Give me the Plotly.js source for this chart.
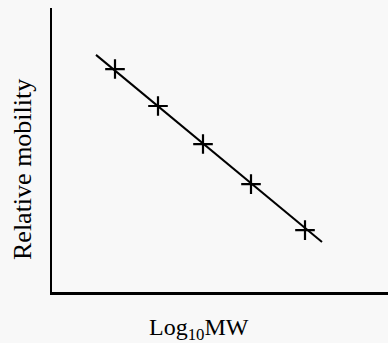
<!DOCTYPE html>
<html>
<head>
<meta charset="utf-8">
<script src="https://cdn.plot.ly/plotly-3.0.1.min.js"></script>
<style>html,body{margin:0;padding:0;background:#f8f8f8;}#chart{width:388px;height:343px;}</style>
</head>
<body>
<div id="chart"></div>
<script>
// Standards: log10 of molecular weight vs relative mobility
const logMW = [3.915, 4.13, 4.355, 4.595, 4.865];
const relMobility = [0.785, 0.655, 0.521, 0.380, 0.218];
// Fitted calibration line endpoints
const fitX = [3.82, 4.95];
const fitY = [0.835, 0.176];
const xTitle = "Log<sub>10</sub>MW";
const yTitle = "Relative mobility";

const traces = [
  {x: fitX, y: fitY, mode: 'lines', type: 'scatter',
   line: {color: '#000', width: 2}, hoverinfo: 'skip', showlegend: false},
  {x: logMW, y: relMobility, mode: 'markers', type: 'scatter',
   marker: {symbol: 'cross-thin-open', size: 14, color: '#000', line: {color: '#000', width: 2.2}},
   showlegend: false}
];

const font = {family: '"Liberation Serif", "Times New Roman", serif', color: '#000'};

const layout = {
  width: 388, height: 343,
  margin: {l: 52, r: 0, t: 8, b: 51},
  paper_bgcolor: '#f8f8f8', plot_bgcolor: '#f8f8f8',
  showlegend: false,
  font: font,
  xaxis: {range: [3.6, 5.28], showline: true, linecolor: '#000', linewidth: 2.5,
          showgrid: false, zeroline: false, ticks: '', showticklabels: false},
  yaxis: {range: [0, 1.0], showline: true, linecolor: '#000', linewidth: 2.5,
          showgrid: false, zeroline: false, ticks: '', showticklabels: false},
  annotations: [
    {text: xTitle, xref: 'paper', yref: 'paper', x: (199 - 52) / 336, y: -37 / 284,
     xanchor: 'center', yanchor: 'middle', showarrow: false,
     font: Object.assign({}, font, {size: 24})},
    {text: yTitle, xref: 'paper', yref: 'paper', x: (22 - 52) / 336, y: (292 - 170) / 284,
     xanchor: 'center', yanchor: 'middle', textangle: -90, showarrow: false,
     font: Object.assign({}, font, {size: 26})}
  ]
};

Plotly.newPlot('chart', traces, layout, {displayModeBar: false, staticPlot: true});
</script>
</body>
</html>
